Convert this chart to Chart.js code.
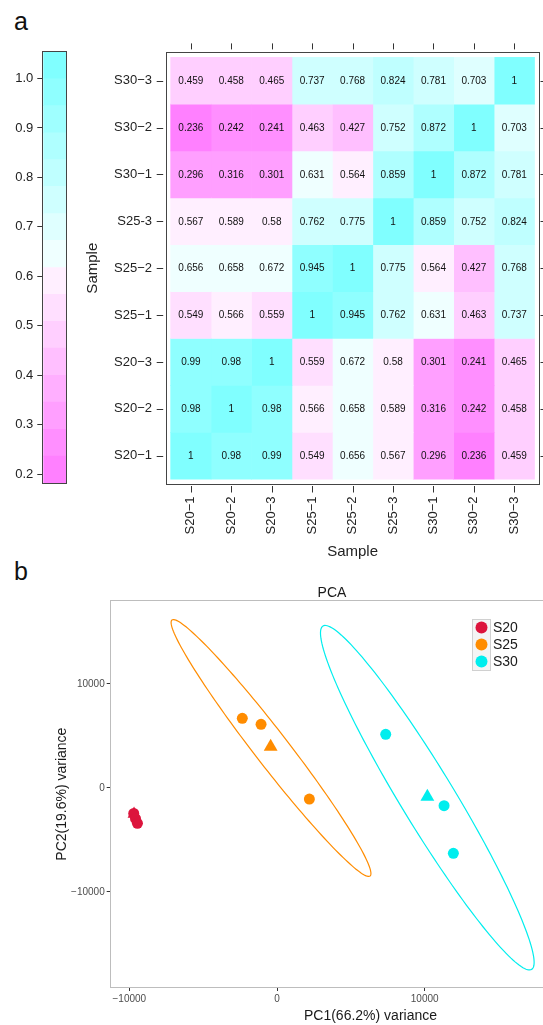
<!DOCTYPE html>
<html>
<head>
<meta charset="utf-8">
<title>Sample correlation and PCA</title>
<script src="https://cdn.jsdelivr.net/npm/chart.js@4.4.1/dist/chart.umd.min.js"></script>
<style>
  html, body { margin: 0; padding: 0; background: #fff; }
  body { position: relative; width: 543px; height: 1025px; overflow: hidden; font-family: 'Liberation Sans', Arial, sans-serif; }
  canvas { position: absolute; }
  .tag { position: absolute; font-size: 25px; line-height: 1; color: #111; }
</style>
</head>
<body>
<div class="tag" style="left:14px; top:9px">a</div>
<div class="tag" style="left:14px; top:559px">b</div>
<canvas id="heat" width="543" height="570" style="left:0; top:0"></canvas>
<canvas id="key" width="90" height="500" style="left:0; top:0"></canvas>
<canvas id="pca" width="640" height="445" style="left:0; top:580px"></canvas>
<script>
// ---- panel a: correlation between samples ----
const colLabels = ['S20−1', 'S20−2', 'S20−3', 'S25−1', 'S25−2', 'S25−3', 'S30−1', 'S30−2', 'S30−3'];
const rowLabels = ['S20−1', 'S20−2', 'S20−3', 'S25−1', 'S25−2', 'S25-3', 'S30−1', 'S30−2', 'S30−3'];

const corS20_1 = [1, 0.98, 0.99, 0.549, 0.656, 0.567, 0.296, 0.236, 0.459];
const corS20_2 = [0.98, 1, 0.98, 0.566, 0.658, 0.589, 0.316, 0.242, 0.458];
const corS20_3 = [0.99, 0.98, 1, 0.559, 0.672, 0.58, 0.301, 0.241, 0.465];
const corS25_1 = [0.549, 0.566, 0.559, 1, 0.945, 0.762, 0.631, 0.463, 0.737];
const corS25_2 = [0.656, 0.658, 0.672, 0.945, 1, 0.775, 0.564, 0.427, 0.768];
const corS25_3 = [0.567, 0.589, 0.58, 0.762, 0.775, 1, 0.859, 0.752, 0.824];
const corS30_1 = [0.296, 0.316, 0.301, 0.631, 0.564, 0.859, 1, 0.872, 0.781];
const corS30_2 = [0.236, 0.242, 0.241, 0.463, 0.427, 0.752, 0.872, 1, 0.703];
const corS30_3 = [0.459, 0.458, 0.465, 0.737, 0.768, 0.824, 0.781, 0.703, 1];
const corRows = [corS20_1, corS20_2, corS20_3, corS25_1, corS25_2, corS25_3, corS30_1, corS30_2, corS30_3];

// colour key: 16 bands
const keyBreaks = [0.182, 0.237, 0.291, 0.346, 0.400, 0.455, 0.509, 0.564, 0.618,
                   0.673, 0.727, 0.782, 0.836, 0.890, 0.945, 0.999, 1.054];
const keyColours = ['#FF80FF', '#FF8FFF', '#FF9FFF', '#FFAFFF', '#FFBFFF', '#FFCFFF', '#FFDFFF', '#FFEFFF',
                    '#EFFFFF', '#DFFFFF', '#CFFFFF', '#BFFFFF', '#AFFFFF', '#9FFFFF', '#8FFFFF', '#80FFFF'];
const keyTicks = [0.2, 0.3, 0.4, 0.5, 0.6, 0.7, 0.8, 0.9, 1.0];

// ---- panel b: PCA ----
const groups = ['S20', 'S25', 'S30'];
const groupColours = ['#DC143C', '#FF8C00', '#00EEEE'];
const s20Points = [[-9700, -2450], [-9580, -2950], [-9450, -3400]];
const s20Mean = [[-9680, -2500]];
const s25Points = [[-2350, 6700], [-1080, 6120], [2190, -1060]];
const s25Mean = [[-430, 3970]];
const s30Points = [[7360, 5160], [11310, -1700], [11940, -6280]];
const s30Mean = [[10180, -840]];
// ellipse: centre, major semi-axis, minor semi-axis (data units)
const s25Ellipse = { centre: [-406, 3846], major: [6703, -12308], minor: [-909, -1000] };
const s30Ellipse = { centre: [10176, -933], major: [7062, -16510], minor: [-1560, -1340] };
const pcaXTicks = [-10000, 0, 10000, 20000];
const pcaYTicks = [-10000, 0, 10000];

Chart.defaults.font.family = "'Liberation Sans', Arial, sans-serif";
Chart.defaults.color = '#1a1a1a';
Chart.defaults.animation = false;

function keyColour(v) {
  for (let k = 0; k < keyColours.length; k++) {
    if (v < keyBreaks[k + 1]) return keyColours[k];
  }
  return keyColours[keyColours.length - 1];
}

function framePlugin(colour) {
  return {
    id: 'frame',
    afterDraw(chart) {
      const { ctx, chartArea: a } = chart;
      ctx.save();
      ctx.strokeStyle = colour;
      ctx.lineWidth = 1;
      const l = Math.round(a.left) - 0.5, t = Math.round(a.top) - 0.5;
      ctx.strokeRect(l, t, Math.round(a.right) - l + 0.5, Math.round(a.bottom) - t + 0.5);
      ctx.restore();
    }
  };
}

// tick marks outside the frame with a small gap, lattice style
const latticeTicks = {
  id: 'latticeTicks',
  afterDraw(chart) {
    const { ctx, chartArea: a, scales: { x, y } } = chart;
    ctx.save();
    ctx.strokeStyle = '#333';
    ctx.lineWidth = 1;
    ctx.beginPath();
    x.ticks.forEach(t => {
      const px = Math.round(x.getPixelForValue(t.value)) + 0.5;
      ctx.moveTo(px, a.top - 3.5); ctx.lineTo(px, a.top - 9.5);
      ctx.moveTo(px, a.bottom + 2.5); ctx.lineTo(px, a.bottom + 9);
    });
    y.ticks.forEach(t => {
      const py = Math.round(y.getPixelForValue(t.value)) + 0.5;
      ctx.moveTo(a.left - 3.5, py); ctx.lineTo(a.left - 10, py);
      ctx.moveTo(a.right + 2, py); ctx.lineTo(a.right + 8, py);
    });
    ctx.stroke();
    ctx.restore();
  }
};

const cellText = {
  id: 'cellText',
  afterDatasetsDraw(chart) {
    const ctx = chart.ctx;
    ctx.save();
    ctx.font = "10px 'Liberation Sans', Arial, sans-serif";
    ctx.fillStyle = '#111';
    ctx.textAlign = 'center';
    ctx.textBaseline = 'middle';
    chart.data.datasets.forEach((ds, j) => {
      chart.getDatasetMeta(j).data.forEach((bar, i) => {
        const c = bar.getCenterPoint();
        ctx.fillText(String(ds.data[i].v), c.x, c.y + 0.5);
      });
    });
    ctx.restore();
  }
};

// colour key bar
new Chart(document.getElementById('key'), {
  type: 'bar',
  data: {
    labels: [''],
    datasets: keyColours.map((c, k) => ({
      data: [[keyBreaks[k], keyBreaks[k + 1]]],
      backgroundColor: c,
      borderWidth: 0,
      barPercentage: 1,
      categoryPercentage: 1,
      grouped: false
    }))
  },
  options: {
    responsive: false,
    events: [],
    layout: { padding: { top: 51.7, bottom: 16.7, left: 0, right: 24 } },
    plugins: { legend: { display: false }, tooltip: { enabled: false } },
    scales: {
      x: { display: false },
      y: {
        min: keyBreaks[0],
        max: keyBreaks[keyBreaks.length - 1],
        afterBuildTicks: s => { s.ticks = keyTicks.map(v => ({ value: v })); },
        afterFit: s => { s.width = 43.3; },
        grid: { display: true, drawOnChartArea: false, drawTicks: true, tickLength: 6, color: '#333' },
        border: { display: false },
        ticks: { padding: 4, color: '#222', font: { size: 13 }, callback: v => v.toFixed(1) }
      }
    }
  },
  plugins: [framePlugin('#444')]
});

// heatmap: one floating bar per cell
const heatSets = colLabels.map((col, j) => ({
  label: col,
  data: corRows.map((row, i) => ({ y: i, x: [j - 0.5, j + 0.5], v: row[j] })),
  backgroundColor: corRows.map(row => keyColour(row[j])),
  borderWidth: 0,
  barPercentage: 1,
  categoryPercentage: 1,
  grouped: false
}));

new Chart(document.getElementById('heat'), {
  type: 'bar',
  data: { datasets: heatSets },
  options: {
    indexAxis: 'y',
    responsive: false,
    events: [],
    layout: { padding: { left: 80, top: 52.9, right: 1.1, bottom: 0 } },
    plugins: { legend: { display: false }, tooltip: { enabled: false } },
    scales: {
      x: {
        type: 'linear',
        offset: false,
        min: -0.598,
        max: 8.598,
        afterBuildTicks: s => { s.ticks = colLabels.map((_, i) => ({ value: i })); },
        afterFit: s => { s.height = 86.5; },
        grid: { display: false, drawTicks: false },
        border: { display: false },
        ticks: { autoSkip: false, minRotation: 90, maxRotation: 90, padding: 13, color: '#222',
                 font: { size: 13 }, callback: v => colLabels[v] },
        title: { display: true, text: 'Sample', font: { size: 15 }, color: '#222', padding: { top: 0, bottom: 9 } }
      },
      y: {
        type: 'linear',
        offset: false,
        min: -0.592,
        max: 8.592,
        afterBuildTicks: s => { s.ticks = rowLabels.map((_, i) => ({ value: i })); },
        afterFit: s => { s.width = 86.7; },
        grid: { display: false, drawTicks: false, offset: false },
        border: { display: false },
        ticks: { autoSkip: false, padding: 14.7, color: '#222', font: { size: 13 }, callback: v => rowLabels[v] },
        title: { display: true, text: 'Sample', font: { size: 15 }, color: '#222', padding: { top: 3.5, bottom: 0 } }
      }
    }
  },
  plugins: [cellText, latticeTicks, framePlugin('#444')]
});

// PCA
const ellipseLayer = {
  id: 'ellipses',
  afterDatasetsDraw(chart) {
    const { ctx, scales: { x, y } } = chart;
    [[s25Ellipse, groupColours[1]], [s30Ellipse, groupColours[2]]].forEach(([e, colour]) => {
      ctx.save();
      ctx.strokeStyle = colour;
      ctx.lineWidth = 1.2;
      ctx.beginPath();
      for (let k = 0; k <= 180; k++) {
        const t = k / 180 * 2 * Math.PI;
        const dx = e.centre[0] + Math.cos(t) * e.major[0] + Math.sin(t) * e.minor[0];
        const dy = e.centre[1] + Math.cos(t) * e.major[1] + Math.sin(t) * e.minor[1];
        const px = x.getPixelForValue(dx), py = y.getPixelForValue(dy);
        if (k === 0) ctx.moveTo(px, py); else ctx.lineTo(px, py);
      }
      ctx.closePath();
      ctx.stroke();
      ctx.restore();
    });
  }
};

const insideLegend = {
  id: 'insideLegend',
  afterDraw(chart) {
    const ctx = chart.ctx;
    const left = 472, top = 39, row = 17, w = 18;
    ctx.save();
    ctx.fillStyle = '#f4f4f4';
    ctx.fillRect(left, top, w, row * groups.length);
    ctx.strokeStyle = '#d0d0d0';
    ctx.lineWidth = 1;
    ctx.strokeRect(left + 0.5, top + 0.5, w, row * groups.length);
    ctx.font = "14px 'Liberation Sans', Arial, sans-serif";
    ctx.textBaseline = 'middle';
    groups.forEach((g, i) => {
      const cy = top + row * i + row / 2;
      ctx.fillStyle = groupColours[i];
      ctx.beginPath();
      ctx.arc(left + w / 2 + 0.5, cy, 6, 0, 2 * Math.PI);
      ctx.fill();
      ctx.fillStyle = '#1a1a1a';
      ctx.fillText(g, left + w + 3, cy + 0.5);
    });
    ctx.restore();
  }
};

function pointSet(label, pts, colour, style, r) {
  return {
    label,
    data: pts.map(p => ({ x: p[0], y: p[1] })),
    pointStyle: style,
    pointRadius: r,
    pointHoverRadius: r,
    backgroundColor: colour,
    borderColor: colour,
    borderWidth: 0
  };
}

new Chart(document.getElementById('pca'), {
  type: 'scatter',
  data: {
    datasets: [
      pointSet('S20', s20Points, groupColours[0], 'circle', 5.5),
      pointSet('S20 mean', s20Mean, groupColours[0], 'triangle', 7.5),
      pointSet('S25', s25Points, groupColours[1], 'circle', 5.5),
      pointSet('S25 mean', s25Mean, groupColours[1], 'triangle', 8),
      pointSet('S30', s30Points, groupColours[2], 'circle', 5.5),
      pointSet('S30 mean', s30Mean, groupColours[2], 'triangle', 8)
    ]
  },
  options: {
    responsive: false,
    events: [],
    layout: { padding: { left: 33.7, right: 9.7, top: 0, bottom: 0 } },
    plugins: {
      legend: { display: false },
      tooltip: { enabled: false },
      title: { display: true, text: 'PCA', color: '#1a1a1a', font: { size: 14, weight: 'normal' }, padding: { top: 4.5, bottom: 0 } }
    },
    scales: {
      x: {
        type: 'linear',
        min: -11260,
        max: 23920,
        afterBuildTicks: s => { s.ticks = pcaXTicks.map(v => ({ value: v })); },
        afterFit: s => { s.height = 38; },
        grid: { display: true, drawOnChartArea: false, drawTicks: true, tickLength: 4, color: '#333' },
        border: { display: false },
        ticks: { padding: 2, color: '#4d4d4d', font: { size: 10 }, callback: v => v < 0 ? '−' + Math.abs(v) : String(v) },
        title: { display: true, text: 'PC1(66.2%) variance', font: { size: 14 }, color: '#1a1a1a', padding: { top: 0, bottom: 0 } }
      },
      y: {
        type: 'linear',
        min: -19135,
        max: 17952,
        afterBuildTicks: s => { s.ticks = pcaYTicks.map(v => ({ value: v })); },
        afterFit: s => { s.width = 77; },
        grid: { display: true, drawOnChartArea: false, drawTicks: true, tickLength: 4, color: '#333' },
        border: { display: false },
        ticks: { padding: 2, color: '#4d4d4d', font: { size: 10 }, callback: v => v < 0 ? '−' + Math.abs(v) : String(v) },
        title: { display: true, text: 'PC2(19.6%) variance', font: { size: 14 }, color: '#1a1a1a', padding: { top: 19.9, bottom: 0 } }
      }
    }
  },
  plugins: [ellipseLayer, insideLegend, framePlugin('#bdbdbd')]
});
</script>
</body>
</html>
